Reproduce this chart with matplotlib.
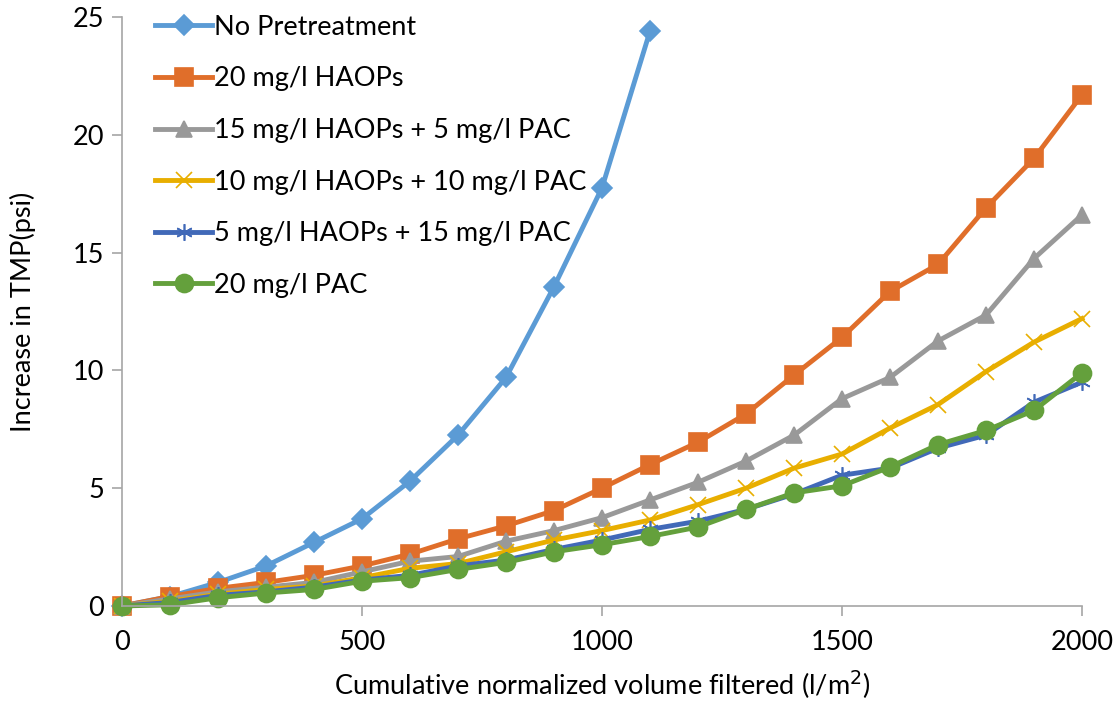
import matplotlib.pyplot as plt

plt.rcParams['font.family'] = ['Lato', 'DejaVu Sans']

volume = [0, 100, 200, 300, 400, 500, 600, 700, 800, 900, 1000,
          1100, 1200, 1300, 1400, 1500, 1600, 1700, 1800, 1900, 2000]

no_pre = [0, 0.4, 1.0, 1.7, 2.7, 3.7, 5.3, 7.25, 9.7, 13.55, 17.75, 24.4]
haops20 = [0, 0.4, 0.75, 1.0, 1.3, 1.7, 2.2, 2.85, 3.4, 4.05, 5.0,
           6.0, 6.95, 8.15, 9.8, 11.4, 13.35, 14.5, 16.9, 19.0, 21.7]
h15_p5 = [0, 0.3, 0.6, 0.8, 1.0, 1.45, 1.9, 2.1, 2.75, 3.2, 3.75,
          4.5, 5.25, 6.15, 7.25, 8.8, 9.7, 11.25, 12.35, 14.75, 16.6]
h10_p10 = [0, 0.2, 0.5, 0.7, 0.85, 1.2, 1.6, 1.8, 2.3, 2.8, 3.2,
           3.65, 4.3, 5.0, 5.85, 6.45, 7.55, 8.55, 9.95, 11.2, 12.2]
h5_p15 = [0, 0.15, 0.45, 0.6, 0.8, 1.1, 1.3, 1.7, 1.95, 2.4, 2.8,
          3.25, 3.6, 4.1, 4.75, 5.55, 5.85, 6.7, 7.25, 8.65, 9.5]
pac20 = [0, 0.05, 0.35, 0.55, 0.7, 1.05, 1.2, 1.55, 1.85, 2.3, 2.6,
         2.95, 3.35, 4.1, 4.8, 5.1, 5.9, 6.85, 7.45, 8.3, 9.9]

series = [
    ('No Pretreatment', no_pre, '#5B9BD5', 'D', 10),
    ('20 mg/l HAOPs', haops20, '#E06E2A', 's', 13),
    ('15 mg/l HAOPs + 5 mg/l PAC', h15_p5, '#999999', '^', 12),
    ('10 mg/l HAOPs + 10 mg/l PAC', h10_p10, '#E8AE00', 'x', 11),
    ('5 mg/l HAOPs + 15 mg/l PAC', h5_p15, '#4169B8', (6, 2, 0), 12),
    ('20 mg/l PAC', pac20, '#64A03C', 'o', 13),
]

fig = plt.figure(figsize=(11.15, 7.07), dpi=100)
ax = fig.add_axes([0.1094, 0.1429, 0.861, 0.833])

for name, vals, col, mk, ms in series:
    ax.plot(volume[:len(vals)], vals, color=col, linewidth=3.5,
            marker=mk, markersize=ms, markeredgewidth=1.2,
            markerfacecolor=col, markeredgecolor=col,
            label=name, clip_on=False)

ax.set_xlim(0, 2000)
ax.set_ylim(0, 25)
ax.set_xticks([0, 500, 1000, 1500, 2000])
ax.set_yticks([0, 5, 10, 15, 20, 25])
for s in ['top', 'right']:
    ax.spines[s].set_visible(False)
for s in ['left', 'bottom']:
    ax.spines[s].set_color('#A6A6A6')
    ax.spines[s].set_linewidth(1.2)
ax.tick_params(axis='both', colors='#A6A6A6', length=7, width=1.2,
               labelsize=19.5, labelcolor='black', pad=6)
ax.tick_params(axis='x', pad=10)

ax.set_xlabel('Cumulative normalized volume filtered (l/m$^2$)', fontsize=19.5, labelpad=10)
ax.set_ylabel('Increase in TMP(psi)', fontsize=19.5, labelpad=26)

ax.legend(loc='upper left', bbox_to_anchor=(0.0235, 1.022), frameon=False,
          fontsize=19.5, handlelength=2.1, handletextpad=0.05,
          labelspacing=0.98, borderaxespad=0)

fig.savefig('out.png', dpi=100)
